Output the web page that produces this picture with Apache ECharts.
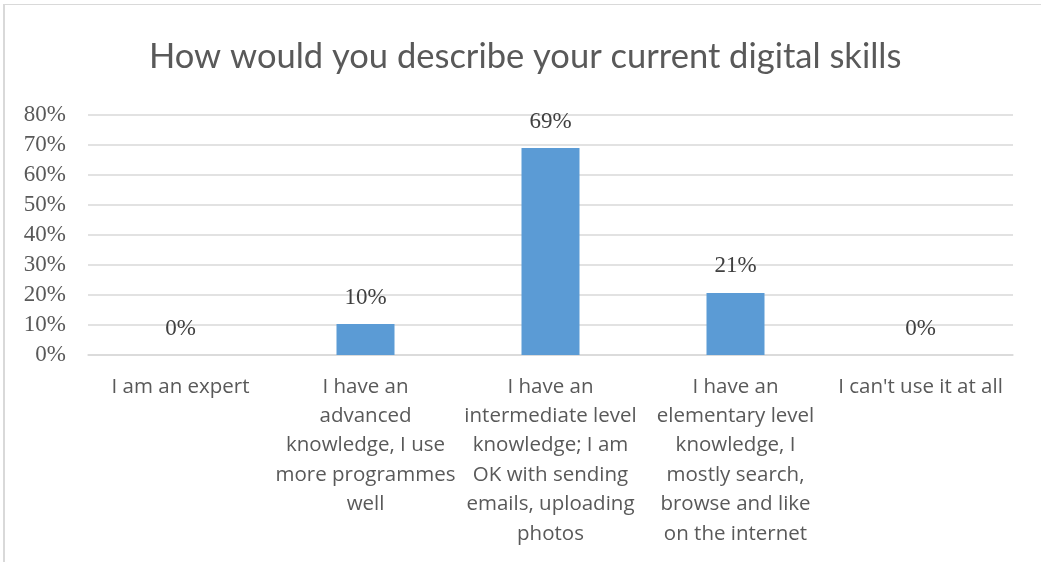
<!DOCTYPE html>
<html>
<head>
<meta charset="utf-8">
<script src="https://cdn.jsdelivr.net/npm/echarts@6/dist/echarts.min.js"></script>
<style>
  html, body { margin: 0; padding: 0; background: #fff; }
  #chart { position: absolute; left: 0; top: 0; width: 1041px; height: 562px; }
  #frame { position: absolute; left: 3px; top: 4px; right: 0; bottom: 0;
           border-left: 2px solid #d9d9d9; border-top: 1px solid #d9d9d9; pointer-events: none; }
</style>
</head>
<body>
<div id="chart"></div>
<div id="frame"></div>
<script>
// Survey answers (share of respondents)
const categories = [
  "I am an expert",
  "I have an\nadvanced\nknowledge, I use\nmore programmes\nwell",
  "I have an\nintermediate level\nknowledge; I am\nOK with sending\nemails, uploading\nphotos",
  "I have an\nelementary level\nknowledge, I\nmostly search,\nbrowse and like\non the internet",
  "I can't use it at all"
];
const shares = [0, 0.1034, 0.6897, 0.2069, 0];
const yTicks = { min: 0, max: 0.8, step: 0.1 };
const titleText = "How would you describe your current digital skills";

const pct = v => Math.round(v * 100) + "%";
const grey = "#595959";

const chart = echarts.init(document.getElementById("chart"), null, { renderer: "canvas" });
chart.setOption({
  animation: false,
  backgroundColor: "#ffffff",
  title: {
    text: titleText,
    left: 144,
    top: 34,
    textStyle: { fontFamily: "Lato", fontWeight: 400, fontSize: 34.5, color: grey }
  },
  grid: { left: 88, right: 28, top: 115, bottom: 207 },
  xAxis: {
    type: "category",
    data: categories,
    axisLine: { show: true, lineStyle: { color: "#d9d9d9", width: 1.5 } },
    axisTick: { show: false },
    axisLabel: {
      interval: 0,
      margin: 17,
      fontFamily: "Open Sans",
      fontSize: 20.5,
      lineHeight: 29.4,
      color: grey,
      align: "center"
    }
  },
  yAxis: {
    type: "value",
    min: yTicks.min,
    max: yTicks.max,
    interval: yTicks.step,
    axisLine: { show: false },
    axisTick: { show: false },
    splitLine: { lineStyle: { color: "#d9d9d9", width: 1.5 } },
    axisLabel: {
      margin: 22,
      fontFamily: "Liberation Serif",
      fontSize: 23,
      color: grey,
      formatter: v => pct(v)
    }
  },
  series: [{
    type: "bar",
    data: shares,
    barWidth: 58,
    itemStyle: { color: "#5b9bd5" },
    label: {
      show: true,
      position: "top",
      distance: 15,
      fontFamily: "Liberation Serif",
      fontSize: 23,
      color: "#404040",
      formatter: p => pct(p.value)
    }
  }]
});
</script>
</body>
</html>
